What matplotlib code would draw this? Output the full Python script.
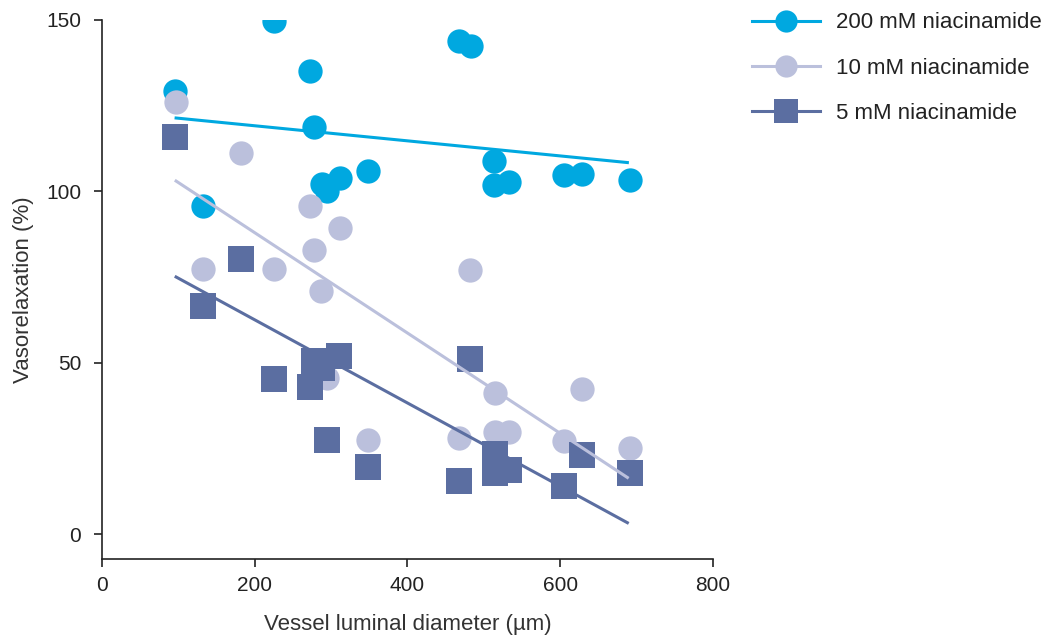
import matplotlib
matplotlib.use("Agg")
import matplotlib.pyplot as plt
import numpy as np

plt.rcParams['font.family'] = ['Liberation Sans', 'DejaVu Sans']

# 200 mM niacinamide
x200 = [95, 132, 225, 272, 277, 288, 294, 311, 348, 468, 483, 513, 513, 533, 605, 628, 691]
y200 = [129.3, 95.7, 149.7, 135.1, 118.8, 102.1, 100.1, 103.9, 105.9, 143.9, 142.4, 108.9, 101.8, 102.7, 104.8, 105.1, 103.3]

# 10 mM niacinamide
x10 = [97, 132, 182, 225, 272, 277, 287, 294, 311, 348, 468, 482, 514, 514, 533, 605, 628, 691]
y10 = [126.1, 77.3, 111.2, 77.3, 95.7, 82.9, 70.9, 45.4, 89.3, 27.5, 28.1, 77.0, 41.2, 29.9, 29.9, 27.2, 42.2, 25.2]

# 5 mM niacinamide
x5 = [95, 132, 182, 225, 272, 278, 288, 310, 294, 348, 468, 482, 514, 514, 533, 605, 628, 691]
y5 = [115.9, 66.5, 80.3, 45.3, 42.9, 50.6, 48.3, 52.0, 27.4, 19.5, 15.5, 51.1, 23.3, 17.9, 18.7, 14.0, 23.1, 17.7]

# fitted lines (end points)
fit_x = [97, 688]
fit200 = [121.4, 108.4]
fit10 = [103.0, 16.5]
fit5 = [75.0, 3.3]

labels = ['200 mM niacinamide', '10 mM niacinamide', '5 mM niacinamide']
c200, c10, c5 = '#00a8e0', '#bbc0dc', '#5b6ea1'

fig = plt.figure(figsize=(10.53, 6.43), dpi=100)
ax = fig.add_axes([0.0969, 0.1306, 0.5801, 0.8383])

ms = 17.5
ax.plot(x200, y200, 'o', color=c200, ms=ms, mew=0, zorder=2)
ax.plot(x10, y10, 'o', color=c10, ms=ms, mew=0, zorder=3)
ax.plot(x5, y5, 's', color=c5, ms=ms + 1, mew=0, zorder=4)

ax.plot(fit_x, fit200, color=c200, lw=2.2, zorder=5)
ax.plot(fit_x, fit10, color=c10, lw=2.2, zorder=5)
ax.plot(fit_x, fit5, color=c5, lw=2.2, zorder=5)

ax.set_xlim(0, 800)
ax.set_ylim(-7.3, 150)
ax.set_xticks([0, 200, 400, 600, 800])
ax.set_yticks([0, 50, 100, 150])
for s in ['top', 'right']:
    ax.spines[s].set_visible(False)
for s in ['left', 'bottom']:
    ax.spines[s].set_linewidth(1.2)
    ax.spines[s].set_color('#222222')
ax.tick_params(direction='out', length=6, width=1.2, labelsize=15, colors='#222222', pad=6)
ax.tick_params(axis='y', pad=9)
ax.set_xlabel('Vessel luminal diameter (µm)', fontsize=16, color='#333333', labelpad=14)
ax.set_ylabel('Vasorelaxation (%)', fontsize=16, color='#333333', labelpad=9)

handles = [
    plt.Line2D([], [], color=c200, marker='o', ms=16, mew=0, lw=2.2),
    plt.Line2D([], [], color=c10, marker='o', ms=16, mew=0, lw=2.2),
    plt.Line2D([], [], color=c5, marker='s', ms=17, mew=0, lw=2.2),
]
fig.legend(handles, labels, loc='upper left', bbox_to_anchor=(0.695, 1.012),
           frameon=False, fontsize=16, handlelength=3.05, handletextpad=0.75,
           labelspacing=1.1, labelcolor='#222222')

fig.savefig('out.png', dpi=100)
